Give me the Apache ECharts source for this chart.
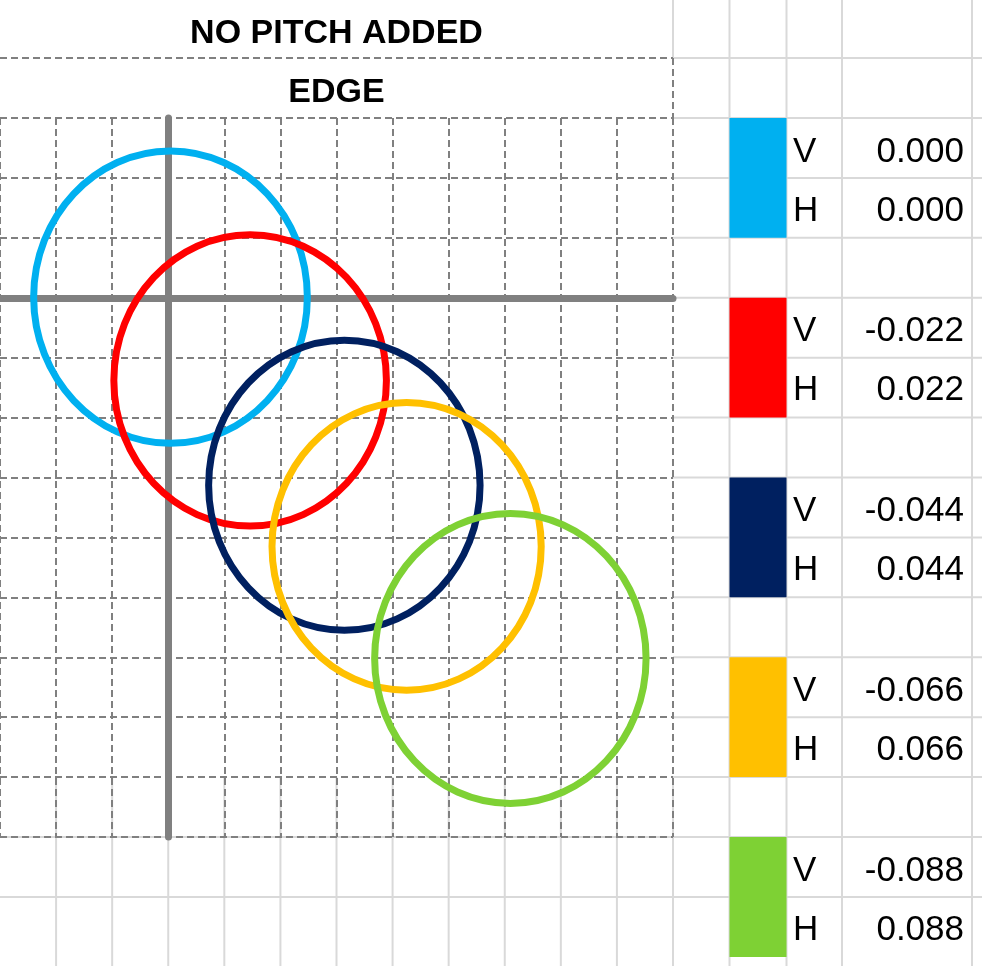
<!DOCTYPE html>
<html>
<head>
<meta charset="utf-8">
<title>No pitch added - edge</title>
<script src="https://cdn.jsdelivr.net/npm/echarts@6/dist/echarts.min.js"></script>
<style>
html, body { margin: 0; padding: 0; background: #fff; }
#chart { width: 988px; height: 966px; }
</style>
</head>
<body>
<div id="chart"></div>
<script>
// circle centres and radii in grid-cell units (H to the right, V up)
var circleCenterH = [0.04, 1.46, 3.14, 4.25, 6.10];
var circleCenterV = [0.01, -1.38, -3.13, -4.15, -6.02];
var circleRadius = [2.44, 2.43, 2.42, 2.40, 2.42];
// values in the side table
var tableV = [0.000, -0.022, -0.044, -0.066, -0.088];
var tableH = [0.000, 0.022, 0.044, 0.066, 0.088];
var titleLines = ['NO PITCH ADDED', 'EDGE'];

var colors = ['#00b0f0', '#ff0000', '#002060', '#ffc000', '#7ed134'];

var chart = echarts.init(document.getElementById('chart'));

// sheet layout
var ROW = 59.92;
var COL = 673 / 12;
function rowTop(k) { return 118 + (k - 2) * ROW; }
var rightCols = [673, 729.5, 786.5, 842, 972];
var lightGrey = '#d9d9d9';
var dashGrey = '#808080';
var txtFont = '35px "Liberation Sans", Arial, sans-serif';
var boldFont = 'bold 34px "Liberation Sans", Arial, sans-serif';

var els = [];
function line(x1, y1, x2, y2, dashed) {
    els.push({
        type: 'line',
        shape: { x1: x1, y1: y1, x2: x2, y2: y2 },
        style: { stroke: dashed ? dashGrey : lightGrey, lineWidth: 2, lineDash: dashed ? [7, 4] : null }
    });
}
function text(str, x, y, font, align) {
    els.push({
        type: 'text',
        style: { text: str, x: x, y: y, font: font, fill: '#000', align: align, textAlign: align, verticalAlign: 'middle', textVerticalAlign: 'middle' }
    });
}

// plain sheet gridlines
for (var k = 1; k <= 15; k++) {
    line(673, rowTop(k), 982, rowTop(k));
}
line(0, rowTop(14), 673, rowTop(14));
line(0, rowTop(15), 673, rowTop(15));
for (var c = 1; c <= 11; c++) {
    line(c * COL, rowTop(13), c * COL, 966);
}
line(673, 0, 673, rowTop(1));
line(673, rowTop(13), 673, 966);
for (var j = 1; j < rightCols.length; j++) {
    line(rightCols[j], 0, rightCols[j], 966);
}
// dashed borders of the title cells
line(0, rowTop(1), 673, rowTop(1), true);
line(673, rowTop(1), 673, rowTop(2), true);

text(titleLines[0], 336.5, rowTop(0) + 35, boldFont, 'center');
text(titleLines[1], 336.5, rowTop(1) + 34.5, boldFont, 'center');

// side table
for (var i = 0; i < tableV.length; i++) {
    var r0 = 2 + i * 3;
    els.push({
        type: 'rect',
        shape: { x: rightCols[1], y: rowTop(r0), width: rightCols[2] - rightCols[1], height: rowTop(r0 + 2) - rowTop(r0) },
        style: { fill: colors[i] }
    });
    text('V', 793, rowTop(r0) + 34, txtFont, 'left');
    text('H', 793, rowTop(r0 + 1) + 33, txtFont, 'left');
    text(tableV[i].toFixed(3), 964, rowTop(r0) + 34, txtFont, 'right');
    text(tableH[i].toFixed(3), 964, rowTop(r0 + 1) + 33, txtFont, 'right');
}

var circleData = circleCenterH.map(function (h, i) {
    return { value: [h, circleCenterV[i], circleRadius[i]], itemStyle: { color: colors[i] } };
});

chart.setOption({
    backgroundColor: '#fff',
    animation: false,
    grid: { left: 0, top: 118, width: 673, height: 719 },
    xAxis: {
        type: 'value', min: -3, max: 9, interval: 1,
        axisLine: { onZero: true, lineStyle: { color: dashGrey, width: 7 } },
        axisTick: { show: false },
        axisLabel: { show: false },
        splitLine: { lineStyle: { color: dashGrey, width: 2, type: [7, 4] } }
    },
    yAxis: {
        type: 'value', min: -9, max: 3, interval: 1,
        axisLine: { onZero: true, lineStyle: { color: dashGrey, width: 7 } },
        axisTick: { show: false },
        axisLabel: { show: false },
        splitLine: { lineStyle: { color: dashGrey, width: 2, type: [7, 4] } }
    },
    graphic: { elements: els },
    series: [{
        type: 'custom',
        data: circleData,
        renderItem: function (params, api) {
            var c = api.coord([api.value(0), api.value(1)]);
            var s = api.size([api.value(2), api.value(2)]);
            return {
                type: 'ellipse',
                shape: { cx: c[0], cy: c[1], rx: s[0], ry: s[1] },
                style: { fill: 'none', stroke: api.visual('color'), lineWidth: 7 }
            };
        }
    }]
});
</script>
</body>
</html>
